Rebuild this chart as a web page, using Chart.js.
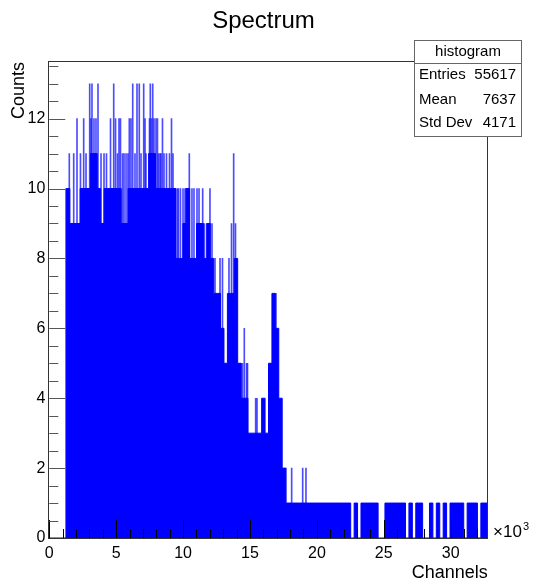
<!DOCTYPE html>
<html>
<head>
<meta charset="utf-8">
<title>Spectrum</title>
<script src="https://cdn.jsdelivr.net/npm/chart.js@4.4.1/dist/chart.umd.min.js"></script>
<style>
  html, body { margin: 0; padding: 0; background: #fff; }
  canvas { display: block; }
</style>
</head>
<body>
<canvas id="spectrum" width="533" height="585"></canvas>
<script>
(function () {
  'use strict';

  const nChannels = 32768;
  const binWidth = 256; // channels per envelope bin

  // solid envelope of the spectrum, one value per 256-channel bin
  const levels = [
    0, 0, 0, 0, 0, 10, 9, 9, 9, 10,
    10, 10, 11, 11, 10, 9, 10, 10, 10, 10,
    10, 9, 9, 10, 10, 10, 10, 10, 10, 11,
    11, 10, 10, 10, 10, 10, 10, 8, 8, 9,
    10, 8, 8, 9, 9, 8, 9, 8, 7, 7,
    6, 5, 7, 7, 8, 5, 4, 4, 3, 3,
    3, 3, 4, 3, 5, 7, 6, 4, 2, 1,
    1, 1, 1, 1, 1, 1, 1, 1, 1, 1,
    1, 1, 1, 1, 1, 1, 1, 1, 0, 1,
    0, 1, 1, 1, 1, 1, 0, 0, 1, 1,
    1, 1, 1, 1, 0, 1, 0, 1, 1, 0,
    0, 1, 0, 1, 0, 1, 0, 1, 1, 1,
    1, 0, 1, 1, 1, 0, 1, 1
  ];

  // single channels that stick out above the envelope
  const spikeChannels = [
    1250, 1495, 1825, 2070, 2330, 2570, 2745,
    3020, 3115, 3190, 3340, 3490,
    3640, 3865, 4090, 4275, 4575, 4815,
    4950, 5095, 5210, 5320, 5470, 5585,
    5735, 5880, 5980, 6105, 6235, 6405,
    6555, 6725, 6855, 7055, 7155, 7225,
    7490, 7550, 7640, 7730, 7825,
    7975, 8085, 8160, 8275, 8350, 8460, 8575,
    8760, 8985, 9135, 9245, 9580, 9655,
    9805, 9995, 10145, 10215, 10465, 10665,
    10815, 11040, 11190, 11465, 11600, 11785, 12010,
    12160, 12385, 12760, 12945, 13430, 13620, 13780, 13915,
    14330, 14440, 14575, 14740, 14815,
    15425, 15525, 16945, 17690, 18115,
    18940, 19185
  ];
  const spikeCounts = [
    10, 11, 11, 12, 11, 12, 11,
    13, 12, 13, 12, 12,
    13, 11, 11, 11, 12, 13,
    12, 11, 12, 12, 11, 11,
    11, 11, 12, 12, 13, 11,
    13, 13, 11, 13, 12, 11,
    12, 13, 12, 13, 12,
    12, 12, 11, 11, 11, 12, 11,
    11, 11, 12, 11, 10, 10,
    10, 10, 10, 10, 11, 10,
    10, 10, 10, 10, 9, 9, 10,
    9, 8, 8, 8, 8, 9, 11, 9,
    5, 5, 6, 5, 5,
    4, 4, 7, 2, 2,
    2, 2
  ];

  const xTickValues = [0, 5000, 10000, 15000, 20000, 25000, 30000];
  const yTickValues = [0, 2, 4, 6, 8, 10, 12];

  const statNames = ['Entries', 'Mean', 'Std Dev'];
  const statValues = ['55617', '7637', '4171'];

  const FONT = "'Liberation Sans', Arial, Helvetica, sans-serif";

  const levelPoints = levels.map(function (v, k) {
    return { x: k * binWidth, y: v };
  });
  levelPoints.push({ x: nChannels, y: 0 });

  const spikePoints = spikeChannels.map(function (ch, i) {
    return { x: ch, y: spikeCounts[i] };
  });

  const rootDecor = {
    id: 'rootDecor',
    afterDatasetsDraw: function (chart) {
      const ctx = chart.ctx;
      const a = chart.chartArea;
      const x = chart.scales.x;
      const y = chart.scales.y;
      ctx.save();

      // x ticks, drawn inside the frame
      ctx.strokeStyle = '#000';
      ctx.lineWidth = 1;
      ctx.beginPath();
      for (let v = 0; v <= nChannels; v += 1000) {
        const px = Math.round(x.getPixelForValue(v)) + 0.5;
        const len = v % 5000 === 0 ? 18 : 9;
        ctx.moveTo(px, a.bottom);
        ctx.lineTo(px, a.bottom - len);
      }
      ctx.stroke();

      // y ticks
      ctx.strokeStyle = '#555';
      ctx.beginPath();
      for (let v = 0; v <= y.max; v += 0.5) {
        const py = Math.round(y.getPixelForValue(v)) + 0.5;
        const len = v % 2 === 0 ? 16 : 9;
        ctx.moveTo(a.left, py);
        ctx.lineTo(a.left + len, py);
      }
      ctx.stroke();

      // frame
      ctx.strokeStyle = '#333';
      ctx.strokeRect(Math.round(a.left) - 0.5, Math.round(a.top) + 0.5,
        Math.round(a.right - a.left) + 1, Math.round(a.bottom - a.top));
      ctx.restore();
    },
    afterDraw: function (chart) {
      const ctx = chart.ctx;
      const a = chart.chartArea;
      ctx.save();
      ctx.fillStyle = '#000';

      // title
      ctx.font = '24px ' + FONT;
      ctx.textAlign = 'center';
      ctx.textBaseline = 'alphabetic';
      ctx.fillText('Spectrum', 263.5, 28);

      // axis titles
      ctx.font = '18px ' + FONT;
      ctx.textAlign = 'right';
      ctx.fillText('Channels', a.right, 578);
      ctx.save();
      ctx.translate(24, a.top + 1);
      ctx.rotate(-Math.PI / 2);
      ctx.fillText('Counts', 0, 0);
      ctx.restore();

      // x10^3 multiplier
      ctx.textAlign = 'left';
      ctx.font = '17px ' + FONT;
      ctx.fillText('\u00d710', 493, 537);
      ctx.font = '11px ' + FONT;
      ctx.fillText('3', 523, 530);

      // stats box
      const bx = 414.5, by = 40.5, bw = 107, bh = 96;
      ctx.fillStyle = '#fff';
      ctx.fillRect(bx, by, bw, bh);
      ctx.strokeStyle = '#666';
      ctx.lineWidth = 1;
      ctx.strokeRect(bx, by, bw, bh);
      ctx.beginPath();
      ctx.moveTo(bx, 63.5);
      ctx.lineTo(bx + bw, 63.5);
      ctx.stroke();

      ctx.fillStyle = '#000';
      ctx.font = '15px ' + FONT;
      ctx.textBaseline = 'middle';
      ctx.textAlign = 'center';
      ctx.fillText('histogram', bx + bw / 2, 52);
      const rowY = [75, 99.5, 122.5];
      statNames.forEach(function (name, i) {
        ctx.textAlign = 'left';
        ctx.fillText(name, 419, rowY[i]);
        ctx.textAlign = 'right';
        ctx.fillText(statValues[i], 516, rowY[i]);
      });
      ctx.restore();
    }
  };

  new Chart(document.getElementById('spectrum'), {
    type: 'line',
    data: {
      datasets: [
        {
          type: 'line',
          data: levelPoints,
          stepped: true,
          fill: 'origin',
          borderColor: '#0000ff',
          backgroundColor: '#0000ff',
          borderWidth: 1,
          pointRadius: 0,
          order: 0
        },
        {
          type: 'bar',
          data: spikePoints,
          backgroundColor: 'rgba(0, 0, 255, 0.7)',
          borderWidth: 0,
          barThickness: 1,
          grouped: false,
          order: 1
        }
      ]
    },
    options: {
      responsive: false,
      devicePixelRatio: 1,
      animation: false,
      events: [],
      layout: { padding: { top: 61, right: 45.3, bottom: 0, left: 0 } },
      plugins: {
        legend: { display: false },
        tooltip: { enabled: false },
        title: { display: false }
      },
      scales: {
        x: {
          type: 'linear',
          min: 0,
          max: nChannels,
          offset: false,
          grid: { display: false, drawTicks: false },
          border: { display: false },
          afterBuildTicks: function (s) {
            s.ticks = xTickValues.map(function (v) { return { value: v }; });
          },
          ticks: {
            autoSkip: false,
            maxRotation: 0,
            padding: 6,
            color: '#000',
            font: { family: FONT, size: 16 },
            callback: function (v) { return String(v / 1000); }
          },
          afterFit: function (s) { s.height = 47; }
        },
        y: {
          type: 'linear',
          min: 0,
          max: 13.65,
          grid: { display: false, drawTicks: false },
          border: { display: false },
          afterBuildTicks: function (s) {
            s.ticks = yTickValues.map(function (v) { return { value: v }; });
          },
          ticks: {
            autoSkip: false,
            padding: 4,
            color: '#000',
            font: { family: FONT, size: 16 }
          },
          afterFit: function (s) { s.width = 49.3; }
        }
      }
    },
    plugins: [rootDecor]
  });
})();
</script>
</body>
</html>
